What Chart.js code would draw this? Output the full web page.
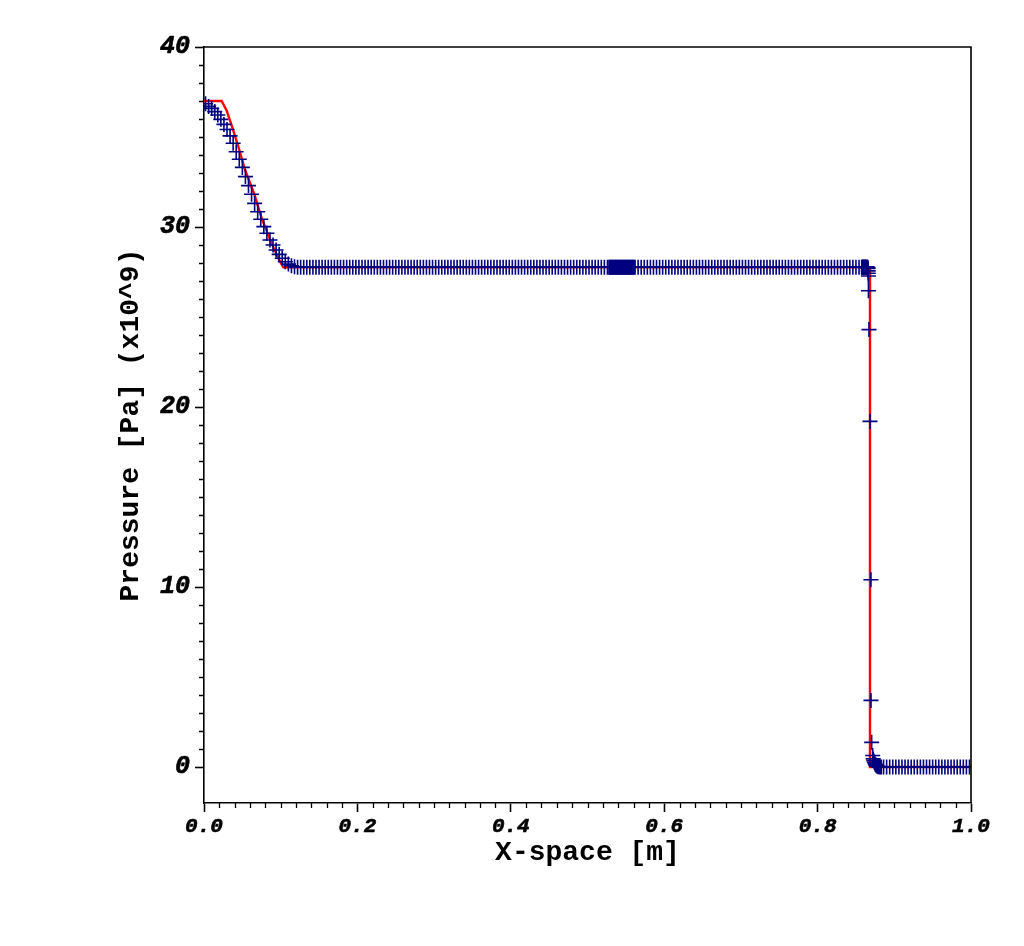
<!DOCTYPE html>
<html><head><meta charset="utf-8">
<script src="https://cdn.jsdelivr.net/npm/chart.js@4.4.0/dist/chart.umd.min.js"></script>
<style>html,body{margin:0;padding:0;background:#fff;}#wrap{width:1024px;height:946px;}</style>
</head><body><div id="wrap"><canvas id="c" width="1024" height="946"></canvas></div>
<script>
// ---- axis ticks ----
const xTickValues = [0, 0.2, 0.4, 0.6, 0.8, 1.0];
const xTickLabels = ['0.0', '0.2', '0.4', '0.6', '0.8', '1.0'];
const yTickValues = [0, 10, 20, 30, 40];
const yTickLabels = ['0', '10', '20', '30', '40'];

// ---- exact solution (red line) ----
const exactX = [0, 0.023, 0.0296, 0.0369, 0.0448, 0.0535, 0.0656, 0.0752, 0.0882, 0.0969, 0.1034, 0.8683, 0.8683, 1.0];
const exactP = [37.0, 37.0, 36.46, 35.54, 34.46, 33.17, 31.82, 30.48, 29.09, 28.26, 27.76, 27.76, 0.0, 0.0];

// ---- numerical solution (blue crosses), by region ----
const rarefX = [0.002,0.006,0.010,0.014,0.018,0.022,0.026,0.030,0.034,0.038,
  0.042,0.046,0.050,0.054,0.058,0.062,0.066,0.070,0.074,0.078,
  0.082,0.086,0.090,0.094,0.098,0.102,0.106,0.110,0.114,0.118];
const rarefP = [36.85,36.70,36.59,36.41,36.22,35.98,35.70,35.42,35.06,34.65,
  34.18,33.76,33.31,32.80,32.30,31.82,31.31,30.85,30.43,30.02,
  29.65,29.28,29.00,28.72,28.48,28.26,28.07,27.94,27.85,27.79];

const plateauAX = [0.122,0.126,0.130,0.134,0.138,0.142,0.146,0.150,0.154,0.158,
  0.162,0.166,0.170,0.174,0.178,0.182,0.186,0.190,0.194,0.198,
  0.202,0.206,0.210,0.214,0.218,0.222,0.226,0.230,0.234,0.238,
  0.242,0.246,0.250,0.254,0.258,0.262,0.266,0.270,0.274,0.278,
  0.282,0.286,0.290,0.294,0.298,0.302,0.306,0.310,0.314,0.318,
  0.322,0.326,0.330,0.334,0.338,0.342,0.346,0.350,0.354,0.358,
  0.362,0.366,0.370,0.374,0.378,0.382,0.386,0.390,0.394,0.398,
  0.402,0.406,0.410,0.414,0.418,0.422,0.426,0.430,0.434,0.438,
  0.442,0.446,0.450,0.454,0.458,0.462,0.466,0.470,0.474,0.478,
  0.482,0.486,0.490,0.494,0.498,0.502,0.506,0.510,0.514,0.518,
  0.522,0.526];
const plateauAP = [27.77,27.77,27.77,27.76,27.76,27.76,27.76,27.76,27.76,27.76,
  27.76,27.76,27.76,27.76,27.76,27.76,27.76,27.76,27.76,27.76,
  27.76,27.76,27.76,27.76,27.76,27.76,27.76,27.76,27.76,27.76,
  27.76,27.76,27.76,27.76,27.76,27.76,27.76,27.76,27.76,27.76,
  27.76,27.76,27.76,27.76,27.76,27.76,27.76,27.76,27.76,27.76,
  27.76,27.76,27.76,27.76,27.76,27.76,27.76,27.76,27.76,27.76,
  27.76,27.76,27.76,27.76,27.76,27.76,27.76,27.76,27.76,27.76,
  27.76,27.76,27.76,27.76,27.76,27.76,27.76,27.76,27.76,27.76,
  27.76,27.76,27.76,27.76,27.76,27.76,27.76,27.76,27.76,27.76,
  27.76,27.76,27.76,27.76,27.76,27.76,27.76,27.76,27.76,27.76,
  27.76,27.76];

const contactX = [0.528,0.529,0.530,0.531,0.532,0.533,0.534,0.535,0.536,0.537,
  0.538,0.539,0.540,0.541,0.542,0.543,0.544,0.545,0.546,0.547,
  0.548,0.549,0.550,0.551,0.552,0.553,0.554,0.555,0.556,0.557,
  0.558,0.559,0.560,0.561];
const contactP = [27.76,27.76,27.76,27.76,27.76,27.76,27.76,27.76,27.76,27.76,
  27.76,27.76,27.76,27.76,27.76,27.76,27.76,27.76,27.76,27.76,
  27.76,27.76,27.76,27.76,27.76,27.76,27.76,27.76,27.76,27.76,
  27.76,27.76,27.76,27.76];

const plateauBX = [0.562,0.566,0.570,0.574,0.578,0.582,0.586,0.590,0.594,0.598,
  0.602,0.606,0.610,0.614,0.618,0.622,0.626,0.630,0.634,0.638,
  0.642,0.646,0.650,0.654,0.658,0.662,0.666,0.670,0.674,0.678,
  0.682,0.686,0.690,0.694,0.698,0.702,0.706,0.710,0.714,0.718,
  0.722,0.726,0.730,0.734,0.738,0.742,0.746,0.750,0.754,0.758,
  0.762,0.766,0.770,0.774,0.778,0.782,0.786,0.790,0.794,0.798,
  0.802,0.806,0.810,0.814,0.818,0.822,0.826,0.830,0.834,0.838,
  0.842,0.846,0.850,0.854];
const plateauBP = [27.76,27.76,27.76,27.76,27.76,27.76,27.76,27.76,27.76,27.76,
  27.76,27.76,27.76,27.76,27.76,27.76,27.76,27.76,27.76,27.76,
  27.76,27.76,27.76,27.76,27.76,27.76,27.76,27.76,27.76,27.76,
  27.76,27.76,27.76,27.76,27.76,27.76,27.76,27.76,27.76,27.76,
  27.76,27.76,27.76,27.76,27.76,27.76,27.76,27.76,27.76,27.76,
  27.76,27.76,27.76,27.76,27.76,27.76,27.76,27.76,27.76,27.76,
  27.76,27.76,27.76,27.76,27.76,27.76,27.76,27.76,27.76,27.76,
  27.76,27.76,27.76,27.76];

const shockX = [0.8575,0.8580,0.8585,0.8590,0.8595,0.8600,0.8605,0.8610,0.8615,0.8620,
  0.8625,0.8630,0.8635,0.8640,0.8645,0.8650,0.8655,
  0.8658,0.8660,0.8661,0.8662,0.8663,0.8670,0.8683,0.8695,0.8696,0.8705,
  0.8718,0.8725,0.8732,0.8740,0.8748,0.8757,0.8767,0.8778,0.8790,0.8802,
  0.8815,0.8830];
const shockP = [27.76,27.76,27.76,27.76,27.76,27.76,27.76,27.76,27.76,27.76,
  27.76,27.76,27.76,27.76,27.76,27.76,27.74,
  27.70,27.56,27.43,27.28,26.46,24.30,19.20,10.40,3.70,1.37,
  0.64,0.45,0.35,0.26,0.18,0.12,0.07,0.04,0.02,0.01,
  0.00,0.00];

const rightStateX = [0.886,0.890,0.894,0.898,0.902,0.906,0.910,0.914,0.918,0.922,
  0.926,0.930,0.934,0.938,0.942,0.946,0.950,0.954,0.958,0.962,
  0.966,0.970,0.974,0.978,0.982,0.986,0.990,0.994,0.998];
const rightStateP = [0,0,0,0,0,0,0,0,0,0,
  0,0,0,0,0,0,0,0,0,0,
  0,0,0,0,0,0,0,0,0];

const numX = [].concat(rarefX, plateauAX, contactX, plateauBX, shockX, rightStateX);
const numP = [].concat(rarefP, plateauAP, contactP, plateauBP, shockP, rightStateP);

const numData = numX.map((x, i) => ({x: x, y: numP[i]}));
const exactData = exactX.map((x, i) => ({x: x, y: exactP[i]}));

const MONO = "'Liberation Mono', 'Courier New', monospace";

const framePlugin = {
  id: 'frame',
  afterDraw(chart) {
    const ctx = chart.ctx, a = chart.chartArea;
    const xs = chart.scales.x, ys = chart.scales.y;
    ctx.save();
    ctx.strokeStyle = '#000';
    ctx.lineWidth = 1.6;
    ctx.beginPath();
    ctx.moveTo(a.left, a.top); ctx.lineTo(a.right, a.top); ctx.lineTo(a.right, a.bottom);
    ctx.stroke();
    // minor ticks
    ctx.lineWidth = 1.3;
    ctx.beginPath();
    for (let k = 1; k < 50; k++) {
      if (k % 10 === 0) continue;
      const px = Math.round(xs.getPixelForValue(k / 50)) + 0.5;
      ctx.moveTo(px, a.bottom); ctx.lineTo(px, a.bottom + 5);
    }
    for (let v = 1; v < 40; v++) {
      if (v % 10 === 0) continue;
      const py = Math.round(ys.getPixelForValue(v)) + 0.5;
      ctx.moveTo(a.left, py); ctx.lineTo(a.left - 5, py);
    }
    ctx.stroke();
    ctx.restore();
  }
};

new Chart(document.getElementById('c'), {
  type: 'scatter',
  data: {
    datasets: [
      {
        label: 'numerical',
        data: numData,
        showLine: false,
        pointStyle: 'cross',
        pointRadius: 7.5,
        pointBorderWidth: 1.6,
        pointBorderColor: '#000080',
        pointBackgroundColor: '#000080',
        clip: 0,
        order: 0
      },
      {
        label: 'exact',
        data: exactData,
        showLine: true,
        borderColor: '#ff0000',
        borderWidth: 2.4,
        pointRadius: 0,
        tension: 0,
        clip: 0,
        order: 1
      }
    ]
  },
  options: {
    responsive: false,
    animation: false,
    events: [],
    layout: {padding: {top: 47, right: 53, bottom: 0, left: 0}},
    plugins: {legend: {display: false}, tooltip: {enabled: false}},
    scales: {
      x: {
        type: 'linear', position: 'bottom', min: 0, max: 1,
        afterBuildTicks: s => { s.ticks = xTickValues.map(v => ({value: v})); },
        afterFit: s => { s.height = 143; },
        ticks: {
          callback: (v, i) => xTickLabels[i],
          font: {family: MONO, weight: 'bold', style: 'italic', size: 21},
          color: '#000', textStrokeColor: '#000', textStrokeWidth: 0.6,
          padding: 2, maxRotation: 0, autoSkip: false
        },
        grid: {drawOnChartArea: false, drawTicks: true, tickLength: 9, tickColor: '#000', tickWidth: 1.6},
        border: {display: true, color: '#000', width: 1.6},
        title: {display: true, text: 'X-space [m]', color: '#000',
          font: {family: MONO, weight: 'bold', size: 28}, padding: {top: 0, bottom: 76}}
      },
      y: {
        type: 'linear', position: 'left', min: -2, max: 40,
        afterBuildTicks: s => { s.ticks = yTickValues.map(v => ({value: v})); },
        afterFit: s => { s.width = 204; },
        ticks: {
          callback: (v, i) => yTickLabels[i],
          font: {family: MONO, weight: 'bold', style: 'italic', size: 25},
          color: '#000', textStrokeColor: '#000', textStrokeWidth: 0.6,
          padding: 5, autoSkip: false
        },
        grid: {drawOnChartArea: false, drawTicks: true, tickLength: 9, tickColor: '#000', tickWidth: 1.6},
        border: {display: true, color: '#000', width: 1.6},
        title: {display: true, text: 'Pressure [Pa] (x10^9)', color: '#000',
          font: {family: MONO, weight: 'bold', size: 28}, padding: {top: 114, bottom: 0}}
      }
    }
  },
  plugins: [framePlugin]
});
</script>
</body></html>
